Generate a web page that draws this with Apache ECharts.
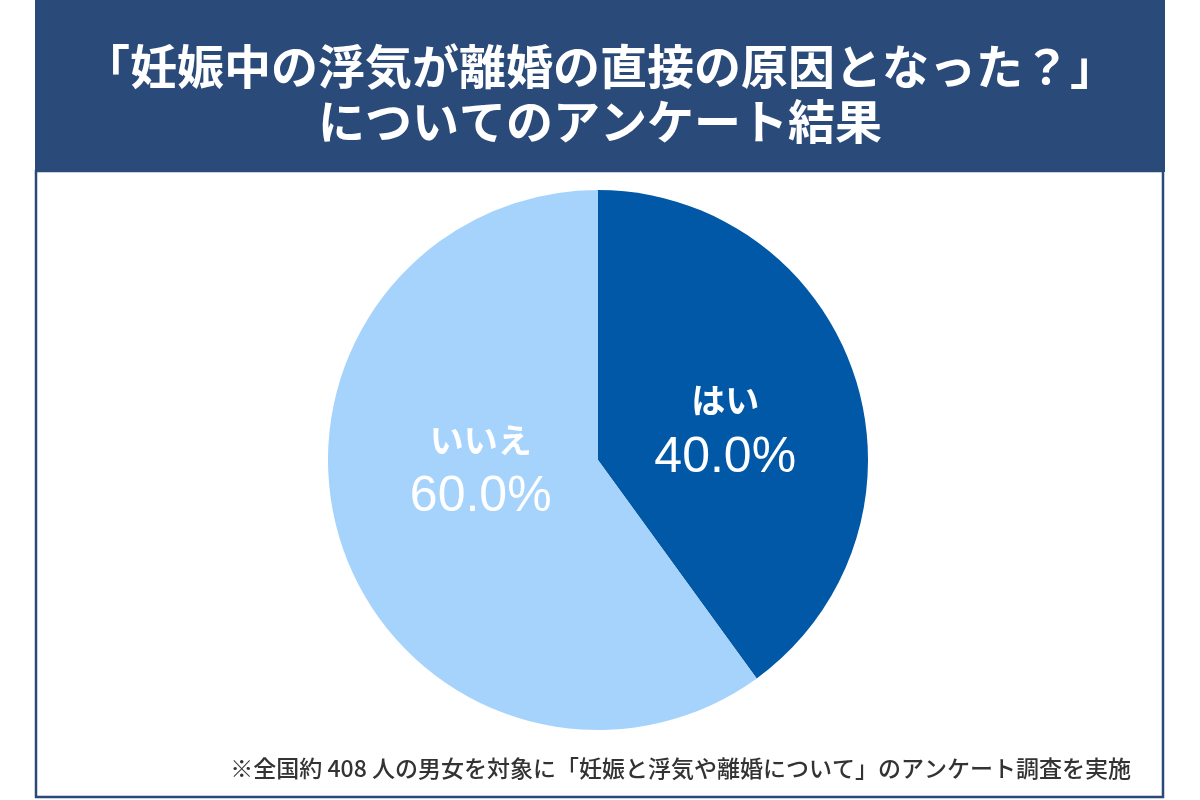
<!DOCTYPE html>
<html><head><meta charset="utf-8">
<script src="https://cdn.jsdelivr.net/npm/echarts@6/dist/echarts.min.js"></script>
<style>html,body{margin:0;padding:0;background:#fff}#c{width:1200px;height:800px}</style>
</head><body><div id="c"></div>
<script>
const titleLines = ['「妊娠中の浮気が離婚の直接の原因となった？」', 'についてのアンケート結果'];
const footnote = '※全国約 408 人の男女を対象に「妊娠と浮気や離婚について」のアンケート調査を実施';
const categories = ['はい', 'いいえ'];
const values = [40.0, 60.0];
const sliceColors = ['#0058A6', '#A6D3FB'];
const labelOffsets = [[-4, 12], [14, -34]];

const chart = echarts.init(document.getElementById('c'));
const font = '"Noto Sans CJK JP","Noto Sans",sans-serif';
chart.setOption({
  backgroundColor: '#ffffff',
  animation: false,
  graphic: [
    { type: 'rect', shape: { x: 35, y: 0, width: 1130, height: 172 }, style: { fill: '#2A4A79' } },
    { type: 'rect', shape: { x: 36, y: 171, width: 1127, height: 626 }, style: { fill: 'none', stroke: '#2A4A79', lineWidth: 2.5 } },
    { type: 'text', x: 600, y: 66, style: { text: titleLines[0], fill: '#fff', font: 'bold 47px ' + font, textAlign: 'center', textVerticalAlign: 'middle' } },
    { type: 'text', x: 600, y: 121, style: { text: titleLines[1], fill: '#fff', font: 'bold 47px ' + font, textAlign: 'center', textVerticalAlign: 'middle' } },
    { type: 'text', x: 1131, y: 768, style: { text: footnote, fill: '#333', font: '500 23px ' + font, textAlign: 'right', textVerticalAlign: 'middle' } }
  ],
  series: [{
    type: 'pie',
    center: [598, 460],
    radius: [0, 270],
    startAngle: 90,
    clockwise: true,
    silent: true,
    label: {
      show: true,
      position: 'inside',
      color: '#fff',
      fontFamily: font,
      formatter: p => '{n|' + p.name + '}\n{v|' + p.value.toFixed(1) + '%}',
      rich: {
        n: { fontSize: 34, fontWeight: 'bold', color: '#fff', lineHeight: 58, fontFamily: font },
        v: { fontSize: 50, color: '#fff', lineHeight: 58, fontFamily: '"Liberation Sans",Arial,sans-serif' }
      }
    },
    labelLine: { show: false },
    itemStyle: { borderWidth: 0 },
    data: categories.map((c, i) => ({ name: c, value: values[i], itemStyle: { color: sliceColors[i] }, label: { offset: labelOffsets[i] } }))
  }]
});
</script></body></html>
